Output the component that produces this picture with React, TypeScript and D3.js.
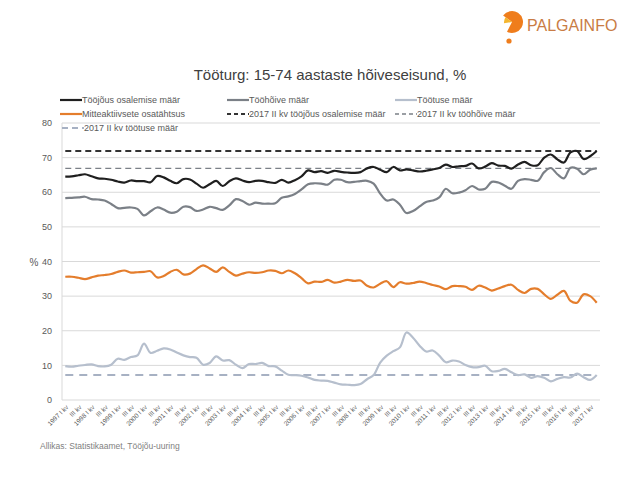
import * as d3 from 'd3'
import { useEffect, useRef } from 'react'

const width = 638
const height = 479
const marginTop = 123
const marginRight = 38
const marginBottom = 79
const marginLeft = 62

const font = "'Liberation Sans', Arial, sans-serif"

// Quarters 1997 I kv ... 2017 II kv
const years = d3.range(1997, 2018)
const romans = ['I', 'II', 'III', 'IV']
const quarters = years.flatMap(y => romans.map(r => `${y} ${r} kv`)).slice(0, 82)

// Tööjõus osalemise määr, %
const participation = [
  64.5, 64.6, 64.9, 65.2, 64.6, 64.0, 63.9, 63.6, 63.1, 62.8,
  63.4, 63.2, 63.2, 62.9, 64.7, 64.3, 63.3, 62.6, 63.8, 63.7,
  62.5, 61.3, 62.3, 63.3, 61.8, 63.2, 64.0, 63.4, 62.9, 63.3,
  63.3, 62.9, 62.7, 63.6, 62.8, 63.5, 64.6, 66.3, 65.8, 66.1,
  65.6, 66.2, 65.9, 65.7, 65.6, 65.8, 66.9, 67.3, 66.5, 65.8,
  67.3, 66.3, 66.6, 66.3, 66.0, 66.2, 66.6, 67.0, 68.0, 67.3,
  67.5, 67.6, 68.3, 66.9, 67.4, 68.4, 67.7, 67.6, 66.8, 68.0,
  68.8, 67.8, 67.8, 70.0, 70.9, 69.5, 68.6, 71.5, 71.9, 69.6,
  70.4, 71.9,
]

// Tööhõive määr, %
const employment = [
  58.3, 58.4, 58.5, 58.7, 58.0, 57.9, 57.6, 56.6, 55.4, 55.5,
  55.6, 55.2, 53.3, 54.5, 55.6, 55.0, 54.1, 54.4, 55.8, 55.7,
  54.6, 55.0, 55.8, 55.4, 54.9, 56.2, 58.0, 57.5, 56.4, 57.0,
  56.7, 56.7, 56.8, 58.4, 58.8, 59.5, 60.8, 62.3, 62.6, 62.5,
  62.2, 63.6, 63.6, 62.9, 63.0, 63.2, 63.3, 62.5, 59.6, 57.6,
  57.9, 56.4, 54.0, 54.6, 55.9, 57.2, 57.6, 58.5, 61.0, 59.7,
  59.9, 60.6, 61.8, 60.8, 61.0, 63.0, 62.8, 61.9, 61.0, 63.3,
  63.8, 63.6, 63.3, 65.8, 67.0, 65.2, 64.0, 67.1, 66.8, 65.2,
  66.5, 66.9,
]

// Töötuse määr, %
const unemployment = [
  9.8, 9.6, 9.9, 10.1, 10.3, 9.8, 9.7, 10.2, 11.9, 11.6,
  12.4, 12.9, 16.3, 13.6, 14.2, 14.9, 14.6, 13.7, 12.9, 12.4,
  12.2, 10.2, 10.7, 12.6, 11.4, 11.5, 10.2, 9.2, 10.4, 10.4,
  10.7, 9.8, 9.7, 8.5, 7.3, 7.2, 7.0, 6.5, 5.8, 5.6,
  5.5, 5.0, 4.5, 4.4, 4.3, 4.6, 6.0, 7.2, 10.8, 12.8,
  14.1, 15.2, 19.5, 18.0, 15.7, 14.0, 14.3, 12.8, 10.9, 11.4,
  11.1, 10.1, 9.5, 9.5, 9.9, 8.3, 8.4, 9.0, 8.0, 7.2,
  7.4, 6.4, 6.9, 6.4, 5.4, 6.1, 6.6, 6.5, 7.6, 6.6,
  5.8, 7.2,
]

// Mitteaktiivsete osatähtsus, %
const inactive = [
  35.6, 35.6, 35.3, 34.9, 35.4, 35.9, 36.1, 36.4, 37.0, 37.4,
  36.8, 36.9, 37.0, 37.2, 35.4, 35.8, 37.0, 37.6, 36.3, 36.5,
  37.8, 38.9, 38.0, 37.0, 38.3, 37.0, 35.9, 36.5, 36.9, 36.7,
  36.9, 37.4, 37.3, 36.6, 37.4, 36.6, 35.2, 33.7, 34.2, 34.1,
  34.7, 33.9, 34.2, 34.7, 34.4, 34.5, 33.0, 32.5, 33.6, 34.3,
  32.6, 34.0, 33.6, 33.8, 34.2, 33.8, 33.2, 32.8, 32.0, 32.9,
  32.9, 32.7, 31.8, 33.0, 32.5, 31.6, 32.2, 32.9, 33.3, 31.8,
  30.9, 32.1, 32.1, 30.5, 29.2, 30.4, 31.5, 28.6, 28.1, 30.5,
  30.0, 28.1,
]

// 2017 II kv levels drawn as dashed reference lines
const refParticipation = 71.9
const refEmployment = 66.9
const refUnemployment = 7.2

const yTicks = [0, 10, 20, 30, 40, 50, 60, 70, 80]

const series = [
  { name: 'Tööjõus osalemise määr', values: participation, color: '#1f1f1f' },
  { name: 'Tööhõive määr', values: employment, color: '#7b8087' },
  { name: 'Töötuse määr', values: unemployment, color: '#b6bfcd' },
  { name: 'Mitteaktiivsete osatähtsus', values: inactive, color: '#e47d2c' },
]

const refs = [
  { name: '2017 II kv tööjõus osalemise määr', value: refParticipation, color: '#333333', width: 2, dash: '6,4' },
  { name: '2017 II kv tööhõive määr', value: refEmployment, color: '#7b8087', width: 1.4, dash: '6,4' },
  { name: '2017 II kv töötuse määr', value: refUnemployment, color: '#a7b1c3', width: 2, dash: '8,6' },
]

export default function App() {
  const ref = useRef(null)

  useEffect(() => {
    const svg = d3.select(ref.current)
    svg.selectAll('*').remove()

    const x = d3
      .scaleBand<number>()
      .domain(d3.range(quarters.length))
      .range([marginLeft, width - marginRight])
    const cx = (i: number) => (x(i) ?? 0) + x.bandwidth() / 2

    const y = d3.scaleLinear([0, 80], [height - marginBottom, marginTop])

    // grid lines and y labels
    const grid = svg.append('g')
    grid
      .selectAll('line')
      .data(yTicks)
      .join('line')
      .attr('x1', marginLeft)
      .attr('x2', width - marginRight)
      .attr('y1', d => y(d))
      .attr('y2', d => y(d))
      .attr('stroke', '#d9d9d9')
      .attr('stroke-width', 1)
    grid
      .selectAll('text')
      .data(yTicks)
      .join('text')
      .attr('x', marginLeft - 10)
      .attr('y', d => y(d))
      .attr('dy', '0.35em')
      .attr('text-anchor', 'end')
      .attr('font-size', 9)
      .attr('fill', '#595959')
      .text(d => d)

    // y axis line
    svg
      .append('line')
      .attr('x1', marginLeft)
      .attr('x2', marginLeft)
      .attr('y1', y(80))
      .attr('y2', y(0))
      .attr('stroke', '#d9d9d9')

    svg
      .append('text')
      .attr('x', 34)
      .attr('y', 266)
      .attr('text-anchor', 'middle')
      .attr('font-size', 10)
      .attr('fill', '#595959')
      .text('%')

    // x tick labels, every second quarter
    svg
      .append('g')
      .selectAll('text')
      .data(d3.range(0, quarters.length, 2))
      .join('text')
      .attr('transform', i => `translate(${cx(i) + 2},${height - marginBottom + 6}) rotate(-45)`)
      .attr('text-anchor', 'end')
      .attr('dy', '0.35em')
      .attr('font-size', 6.5)
      .attr('fill', '#595959')
      .text(i => (i % 4 === 0 ? quarters[i] : 'III kv'))

    // dashed reference lines
    svg
      .append('g')
      .selectAll('line')
      .data(refs)
      .join('line')
      .attr('x1', cx(0))
      .attr('x2', cx(quarters.length - 1))
      .attr('y1', d => y(d.value))
      .attr('y2', d => y(d.value))
      .attr('stroke', d => d.color)
      .attr('stroke-width', d => d.width)
      .attr('stroke-dasharray', d => d.dash)

    const line = d3
      .line<number>()
      .x((_, i) => cx(i))
      .y(d => y(d))
      .curve(d3.curveCatmullRom.alpha(0.5))

    svg
      .append('g')
      .selectAll('path')
      .data(series)
      .join('path')
      .attr('fill', 'none')
      .attr('stroke', d => d.color)
      .attr('stroke-width', 2.2)
      .attr('stroke-linejoin', 'round')
      .attr('d', d => line(d.values))

    // legend
    const legendItems = [
      { name: series[0].name, color: series[0].color, width: 2.2, dash: null, lx: 60, ly: 100 },
      { name: series[1].name, color: series[1].color, width: 2.2, dash: null, lx: 227, ly: 100 },
      { name: series[2].name, color: series[2].color, width: 2.2, dash: null, lx: 395, ly: 100 },
      { name: series[3].name, color: series[3].color, width: 2.2, dash: null, lx: 60, ly: 114 },
      { name: refs[0].name, color: refs[0].color, width: 2, dash: '4,3', lx: 227, ly: 114 },
      { name: refs[1].name, color: refs[1].color, width: 1.4, dash: '4,3', lx: 395, ly: 114 },
      { name: refs[2].name, color: refs[2].color, width: 2, dash: '6,4', lx: 62, ly: 128 },
    ]
    const legend = svg
      .append('g')
      .selectAll('g')
      .data(legendItems)
      .join('g')
      .attr('transform', d => `translate(${d.lx},${d.ly})`)
    legend
      .append('line')
      .attr('x1', 0)
      .attr('x2', 22)
      .attr('stroke', d => d.color)
      .attr('stroke-width', d => d.width)
      .attr('stroke-dasharray', d => d.dash)
    legend
      .append('text')
      .attr('x', 22)
      .attr('dy', '0.35em')
      .attr('font-size', 9)
      .attr('fill', '#595959')
      .text(d => d.name)

    // title
    svg
      .append('text')
      .attr('x', 330)
      .attr('y', 80)
      .attr('text-anchor', 'middle')
      .attr('font-size', 15)
      .attr('fill', '#404040')
      .text('Tööturg: 15-74 aastaste hõiveseisund, %')

    // source
    svg
      .append('text')
      .attr('x', 40)
      .attr('y', 449)
      .attr('font-size', 8.5)
      .attr('fill', '#7f7f7f')
      .text('Allikas: Statistikaamet, Tööjõu-uuring')

    // logo
    const logo = svg.append('g').attr('transform', 'translate(512,22)')
    const arc = d3.arc()
    logo
      .append('path')
      .attr('fill', '#ef7d1c')
      .attr('d', arc({ innerRadius: 0, outerRadius: 11, startAngle: -0.3 * Math.PI, endAngle: 1.15 * Math.PI }))
    logo
      .append('path')
      .attr('fill', '#f4b62f')
      .attr('d', arc({ innerRadius: 0, outerRadius: 8, startAngle: -0.55 * Math.PI, endAngle: -0.3 * Math.PI }))
    logo.append('circle').attr('cx', -3).attr('cy', 19).attr('r', 2.6).attr('fill', '#ef7d1c')
    svg
      .append('text')
      .attr('x', 527)
      .attr('y', 31)
      .attr('font-size', 16)
      .attr('fill', '#c97c45')
      .text('PALGAINFO')
  }, [])

  return (
    <svg
      ref={ref}
      width={width}
      height={height}
      viewBox={`0 0 ${width} ${height}`}
      style={{ position: 'absolute', left: 0, top: 0, background: '#fff', fontFamily: font }}
    ></svg>
  )
}
